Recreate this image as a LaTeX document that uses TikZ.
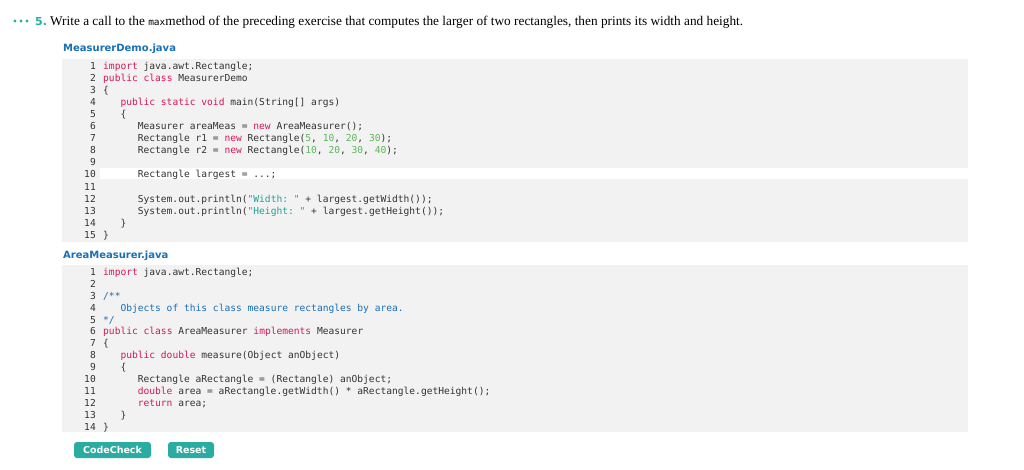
\documentclass[tikz,border=0pt]{standalone}
\usepackage{fontspec}
\setmainfont{Liberation Serif}
\setsansfont{DejaVu Sans}
\setmonofont{DejaVu Sans Mono}
\definecolor{kw}{HTML}{D0195A}
\definecolor{num}{HTML}{5DB75A}
\definecolor{str}{HTML}{1AA39A}
\definecolor{cmt}{HTML}{1A6FB5}
\definecolor{teal}{HTML}{2AACA0}
\definecolor{codebg}{HTML}{F2F2F2}
\newcommand{\K}[1]{\textcolor{kw}{#1}}
\newcommand{\N}[1]{\textcolor{num}{#1}}
\newcommand{\St}[1]{\textcolor{str}{#1}}
\newcommand{\C}[1]{\textcolor{cmt}{#1}}
\newcommand{\cl}[5]{% name, number, y, indent chars, content
  \node[ln] (#1n) at (96,#3) {#2};
  \node[code] (#1) at ({103+5.77*#4},#3) {#5};}
\begin{document}
\begin{tikzpicture}[x=1pt,y=-1pt,
  ln/.style={anchor=base east,inner sep=0,font=\ttfamily\fontsize{9.6}{10}\selectfont,text=black!80},
  code/.style={anchor=base west,inner sep=0,font=\ttfamily\fontsize{9.6}{10}\selectfont,text=black!80},
  fname/.style={anchor=base west,inner sep=0,font=\sffamily\bfseries\fontsize{10}{12}\selectfont,text=cmt},
  btn/.style={fill=teal,rounded corners=3pt,text=white,font=\sffamily\bfseries\fontsize{9.5}{11}\selectfont,minimum height=16pt,inner xsep=0}]
\useasboundingbox (0,0) rectangle (1024,469);
\fill[white] (0,0) rectangle (1024,469);
% title
\foreach \i/\xx in {1/15,2/21,3/27} \fill[teal] (\xx,21) circle (1.7);
\node[anchor=base west,inner sep=0,text=teal,font=\sffamily\bfseries\fontsize{11}{12}\selectfont] (num) at (35,25) {5.};
\node[anchor=base west,inner sep=0,font=\fontsize{13.3}{15}\selectfont] (title) at (50,25) {Write a call to the {\ttfamily\fontsize{9.5}{10}\selectfont max}method of the preceding exercise that computes the larger of two rectangles, then prints its width and height.};
% file 1
\node[fname] (f1) at (63,51) {MeasurerDemo.java};
\fill[codebg] (62,59) rectangle (968,242);
\fill[white] (100,168) rectangle (968,179);
\cl{a1}{1}{69.5}{0}{\K{import} java.awt.Rectangle;}
\cl{a2}{2}{81.5}{0}{\K{public} \K{class} MeasurerDemo}
\cl{a3}{3}{93.5}{0}{\{}
\cl{a4}{4}{105.5}{3}{\K{public} \K{static} \K{void} main(String[] args)}
\cl{a5}{5}{117.5}{3}{\{}
\cl{a6}{6}{129.5}{6}{Measurer areaMeas = \K{new} AreaMeasurer();}
\cl{a7}{7}{141.5}{6}{Rectangle r1 = \K{new} Rectangle(\N{5}, \N{10}, \N{20}, \N{30});}
\cl{a8}{8}{153.5}{6}{Rectangle r2 = \K{new} Rectangle(\N{10}, \N{20}, \N{30}, \N{40});}
\cl{a9}{9}{165.5}{0}{}
\cl{a10}{10}{177}{6}{Rectangle largest = ...;}
\cl{a11}{11}{190}{0}{}
\cl{a12}{12}{202}{6}{System.out.println(\St{"Width: "} + largest.getWidth());}
\cl{a13}{13}{214}{6}{System.out.println(\St{"Height: "} + largest.getHeight());}
\cl{a14}{14}{226}{3}{\}}
\cl{a15}{15}{238}{0}{\}}
% file 2
\node[fname] (f2) at (63,258) {AreaMeasurer.java};
\fill[codebg] (62,265) rectangle (968,432);
\cl{b1}{1}{275.5}{0}{\K{import} java.awt.Rectangle;}
\cl{b2}{2}{287.5}{0}{}
\cl{b3}{3}{299}{0}{\C{/**}}
\cl{b4}{4}{311}{3}{\C{Objects of this class measure rectangles by area.}}
\cl{b5}{5}{323}{0}{\C{*/}}
\cl{b6}{6}{334.5}{0}{\K{public} \K{class} AreaMeasurer \K{implements} Measurer}
\cl{b7}{7}{346.5}{0}{\{}
\cl{b8}{8}{358.5}{3}{\K{public} \K{double} measure(Object anObject)}
\cl{b9}{9}{370.5}{3}{\{}
\cl{b10}{10}{382}{6}{Rectangle aRectangle = (Rectangle) anObject;}
\cl{b11}{11}{394}{6}{\K{double} area = aRectangle.getWidth() * aRectangle.getHeight();}
\cl{b12}{12}{406}{6}{\K{return} area;}
\cl{b13}{13}{418}{3}{\}}
\cl{b14}{14}{430}{0}{\}}
% buttons
\node[btn,minimum width=77pt] (cc) at (112.5,450) {CodeCheck};
\node[btn,minimum width=46pt] (rs) at (191,450) {Reset};
\end{tikzpicture}
\end{document}
